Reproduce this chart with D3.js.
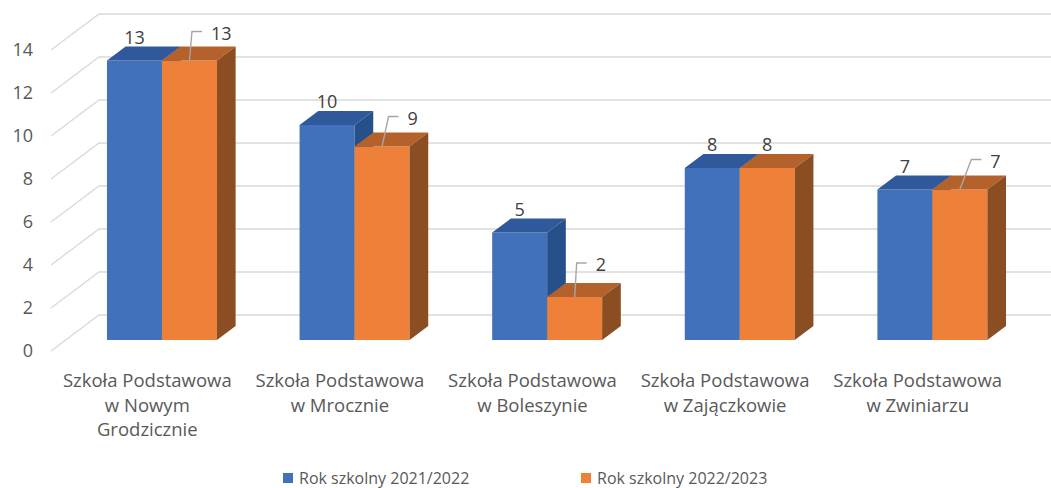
<!DOCTYPE html>
<html>
<head>
<meta charset="utf-8">
<script src="https://cdn.jsdelivr.net/npm/d3@7"></script>
<style>
  html, body { margin: 0; padding: 0; background: #fff; }
  svg { display: block; font-family: "Open Sans", sans-serif; }
</style>
</head>
<body>
<svg id="chart" width="1051" height="488"></svg>
<script>
// chart data
const categories = [
  'Szkoła Podstawowa\nw Nowym\nGrodzicznie',
  'Szkoła Podstawowa\nw Mrocznie',
  'Szkoła Podstawowa\nw Boleszynie',
  'Szkoła Podstawowa\nw Zajączkowie',
  'Szkoła Podstawowa\nw Zwiniarzu'
];
const seriesNames = ['Rok szkolny 2021/2022', 'Rok szkolny 2022/2023'];
const values2122 = [13, 10, 5, 8, 7];
const values2223 = [13, 9, 2, 8, 7];
const yTicks = [0, 2, 4, 6, 8, 10, 12, 14];

// layout / style
const W = 1051, H = 488;
const depthX = 48, depthY = 36;         // full floor depth (oblique)
const barZ0 = 11 / 36, barZ1 = 25 / 36; // bar front/back depth
const faces = [
  { front: '#4171BA', top: '#30599B', side: '#26508A' },
  { front: '#EE8039', top: '#B5612B', side: '#8B4E22' }
];
// hand placed orange labels (leader: elbow dx, dy) ; null = label on top
const leaderPos = [[2.5, -29], [6.5, -30], [2, -34], null, [11.5, -30]];

const svg = d3.select('#chart');

const x = d3.scaleBand().domain(categories).range([51, 51 + 5 * 192.6])
  .paddingInner(0.429).paddingOuter(0.2145);
const xs = d3.scaleBand().domain(seriesNames).range([0, x.bandwidth()]);
const y = d3.scaleLinear().domain([0, 14]).range([351, 50]);

const P = (px, v, z) => [px + z * depthX, y(v) - z * depthY];

// gridlines: left side wall + back wall
const grid = svg.append('g');
grid.selectAll('path').data(yTicks).enter().append('path')
  .attr('fill', 'none')
  .attr('stroke', '#D9D9D9')
  .attr('stroke-width', 1.3)
  .attr('d', v => {
    const a = P(51, v, 0), b = P(51, v, 1);
    return `M${a}L${b}L${W + 20},${b[1]}`;
  });

// y axis labels
const yAxis = d3.axisLeft(y).tickValues(yTicks).tickSize(0).tickPadding(18);
const ya = svg.append('g').attr('transform', 'translate(51,0)').call(yAxis);
ya.select('.domain').remove();
ya.selectAll('text')
  .attr('font-family', '"Open Sans", sans-serif')
  .attr('font-size', 18)
  .attr('fill', '#595959');

// bars
const seriesVals = [values2122, values2223];
const bars = svg.append('g');
categories.forEach((c, ci) => {
  seriesNames.forEach((s, si) => {
    const v = seriesVals[si][ci];
    const x0 = x(c) + xs(s), x1 = x0 + xs.bandwidth();
    const f = faces[si];
    const fl = P(x0, 0, barZ0), fr = P(x1, 0, barZ0);
    const tl = P(x0, v, barZ0), tr = P(x1, v, barZ0);
    const btl = P(x0, v, barZ1), btr = P(x1, v, barZ1), bbr = P(x1, 0, barZ1);
    const g = bars.append('g');
    g.append('path').attr('fill', f.front)
      .attr('d', `M${fl}L${fr}L${tr}L${tl}Z`);
    g.append('path').attr('fill', f.top)
      .attr('d', `M${tl}L${tr}L${btr}L${btl}Z`);
    g.append('path').attr('fill', f.side)
      .attr('d', `M${fr}L${bbr}L${btr}L${tr}Z`);
  });
});

// data labels
const labels = svg.append('g')
  .attr('font-family', '"Open Sans", sans-serif')
  .attr('font-size', 18)
  .attr('fill', '#404040');
categories.forEach((c, ci) => {
  seriesNames.forEach((s, si) => {
    const v = seriesVals[si][ci];
    const cx = x(c) + xs(s) + xs.bandwidth() / 2 + barZ0 * depthX;
    const top = P(0, v, barZ0)[1];
    const back = P(0, v, barZ1)[1];
    const lp = si === 1 ? leaderPos[ci] : null;
    if (!lp) {
      labels.append('text').attr('x', cx).attr('y', back - 3)
        .attr('text-anchor', 'middle').text(v);
    } else {
      const ex = cx + lp[0], ey = top + lp[1];
      labels.append('path').attr('fill', 'none')
        .attr('stroke', '#A6A6A6').attr('stroke-width', 1.4)
        .attr('d', `M${cx},${top}L${ex},${ey}L${ex + 10},${ey}`);
      labels.append('text').attr('x', ex + 19).attr('y', ey + 2)
        .attr('dy', '0.35em').text(v);
    }
  });
});

// category labels
const catG = svg.append('g')
  .attr('font-family', '"Open Sans", sans-serif')
  .attr('font-size', 18.5)
  .attr('fill', '#595959')
  .attr('text-anchor', 'middle');
categories.forEach(c => {
  const t = catG.append('text').attr('x', x(c) + x.bandwidth() / 2).attr('y', 387);
  c.split('\n').forEach((line, i) => {
    t.append('tspan').attr('x', x(c) + x.bandwidth() / 2)
      .attr('y', 387 + i * 24.5).text(line);
  });
});

// legend
const legendX = [283, 581];
const lg = svg.append('g')
  .attr('font-family', '"Open Sans", sans-serif')
  .attr('font-size', 16)
  .attr('fill', '#595959');
seriesNames.forEach((s, i) => {
  lg.append('rect').attr('x', legendX[i]).attr('y', 473)
    .attr('width', 10).attr('height', 10).attr('fill', faces[i].front);
  lg.append('text').attr('x', legendX[i] + 16).attr('y', 484).text(s);
});
</script>
</body>
</html>
